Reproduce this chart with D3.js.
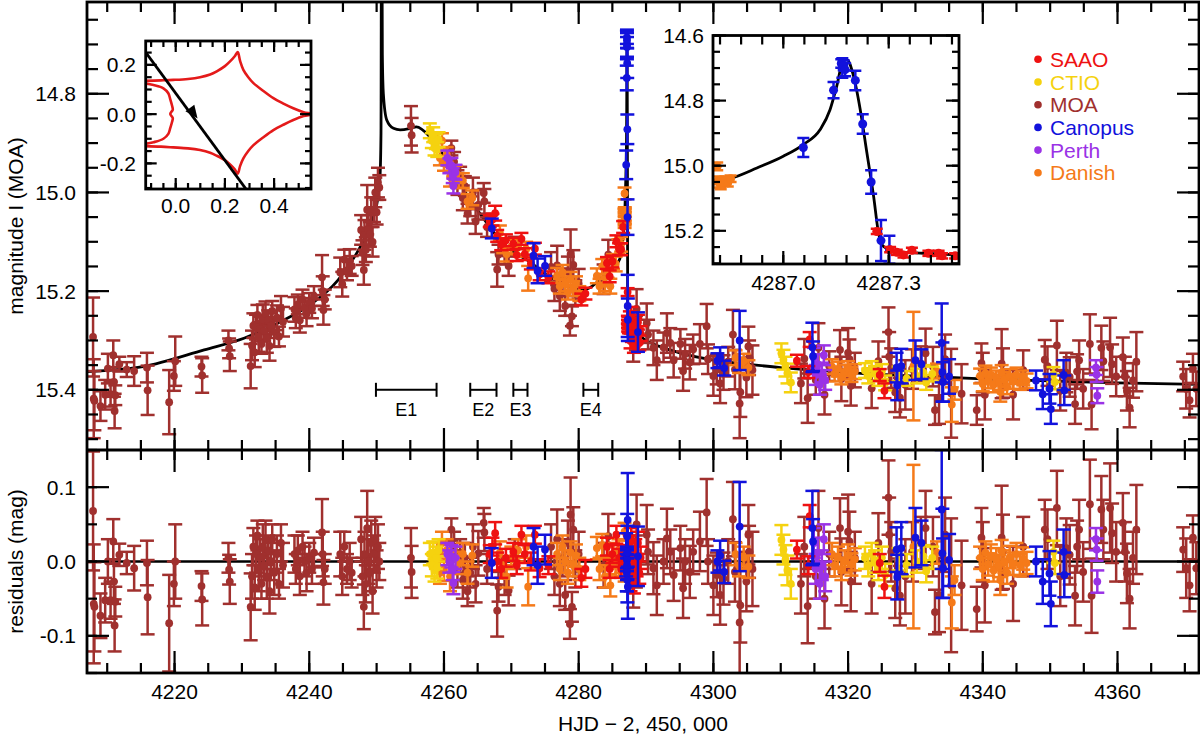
<!DOCTYPE html>
<html><head><meta charset="utf-8">
<script src="https://cdn.jsdelivr.net/npm/d3@7"></script>
<style>
body{margin:0;background:#fff}
text{font-family:"Liberation Sans",Arial,Helvetica,sans-serif}
</style>
</head><body>
<svg id="chart" width="1200" height="735"></svg>
<script>
// ---------------- axes / ticks ----------------
const hjdDomain=[4207,4372.1];
const magDomain=[14.614,15.522];
const resDomain=[-0.15,0.15];
const xMajor=[4220,4240,4260,4280,4300,4320,4340,4360];
const xMinor=d3.range(4210,4372,5);
const magMajor=[14.8,15.0,15.2,15.4];
const magLabels=["14.8","15.0","15.2","15.4"];
const magMinor=d3.range(14.65,15.52,0.05);
const resMajor=[0.1,0,-0.1];
const resLabels=["0.1","0.0","-0.1"];
const resMinor=[-0.15,-0.1,-0.05,0,0.05,0.1,0.15];

const insetTDomain=[4286.8,4287.5];
const insetMagDomain=[14.6,15.302];
const insetTMajor=[4287.0,4287.3];
const insetTLabels=["4287.0","4287.3"];
const insetTMinor=[4286.82,4286.88,4286.94,4287.00,4287.06,4287.12,4287.18,4287.24,4287.30,4287.36,4287.42,4287.48];
const insetMagMajor=[14.6,14.8,15.0,15.2];
const insetMagLabels=["14.6","14.8","15.0","15.2"];
const insetMagMinor=d3.range(14.6,15.31,0.05);

const causXDomain=[-0.122,0.55];
const causYDomain=[-0.304,0.297];
const causXMajor=[0,0.2,0.4]; const causXLabels=["0.0","0.2","0.4"];
const causYMajor=[0.2,0,-0.2]; const causYLabels=["0.2","0.0","-0.2"];
const causXMinor=[-0.1,-0.05,0,0.05,0.1,0.15,0.2,0.25,0.3,0.35,0.4,0.45,0.5];
const causYMinor=[-0.3,-0.25,-0.2,-0.15,-0.1,-0.05,0,0.05,0.1,0.15,0.2,0.25];

// ---------------- model light curve [HJD, mag] ----------------
const model=[
[4207.0,15.363],[4215.3,15.353],[4224.4,15.319],[4230.4,15.295],[4235.3,15.265],[4240.1,15.228],
[4244.3,15.177],[4247.3,15.117],[4248.5,15.085],[4249.5,15.05],[4250.2,15.01],[4250.5,14.97],
[4250.65,14.88],[4250.72,14.45],[4250.78,14.45],[4250.85,14.72],[4251.0,14.80],[4251.5,14.853],
[4252.5,14.870],[4253.5,14.873],[4255.0,14.870],[4255.9,14.867],[4257.9,14.887],[4259.4,14.914],
[4261.0,14.950],[4263.9,15.015],[4266.0,15.055],[4268.3,15.096],[4270.0,15.117],[4272.8,15.141],
[4275.0,15.165],[4277.2,15.183],[4280.6,15.198],[4282.0,15.190],[4283.6,15.171],[4285.0,15.155],
[4286.1,15.135],[4286.5,15.100],[4286.7,15.070],[4286.80,15.050],[4286.853,15.038],[4286.925,15.007],
[4287.0,14.971],[4287.057,14.935],[4287.105,14.889],[4287.133,14.828],[4287.152,14.756],[4287.170,14.679],
[4287.181,14.674],[4287.200,14.725],[4287.219,14.828],[4287.238,14.961],[4287.257,15.094],[4287.271,15.207],
[4287.285,15.248],[4287.323,15.264],[4287.399,15.269],[4287.494,15.274],[4288.0,15.280],[4289.0,15.290],
[4290.0,15.300],[4292.0,15.312],[4295.0,15.325],[4300.0,15.340],[4305.0,15.348],[4310.0,15.355],
[4315.0,15.360],[4320.0,15.365],[4330.0,15.372],[4340.0,15.378],[4350.0,15.382],[4360.0,15.386],[4372.0,15.389]
];

// ---------------- observations [HJD, mag, err, residual] ----------------
const saao=[
[4266.8,15.058,0.012,0.010],[4267.2,15.055,0.012,0.020],[4267.6,15.042,0.015,0.038],[4267.9,15.088,0.012,0.000],
[4268.5,15.105,0.012,-0.010],[4269.2,15.097,0.012,0.005],[4270.3,15.104,0.012,0.013],[4270.8,15.127,0.012,-0.005],
[4271.5,15.094,0.012,0.036],[4272.0,15.125,0.012,0.010],[4272.9,15.144,0.012,0.000],[4273.5,15.114,0.012,0.036],
[4274.2,15.166,0.012,-0.009],[4275.5,15.172,0.012,-0.005],[4280.4,15.217,0.012,-0.022],[4281.0,15.205,0.012,-0.010],
[4284.2,15.143,0.012,0.020],[4284.6,15.170,0.012,-0.010],[4285.0,15.140,0.012,0.010],[4285.6,15.099,0.012,0.036],
[4286.0,15.115,0.012,0.005],[4286.3,15.115,0.012,-0.010],[4286.6,15.070,0.012,0.010],
[4287.266,15.202,0.008,0.008],[4287.304,15.258,0.008,0.002],[4287.323,15.266,0.008,-0.002],[4287.342,15.274,0.008,-0.006],
[4287.366,15.260,0.008,0.010],[4287.413,15.269,0.008,0.000],[4287.442,15.269,0.008,0.003],[4287.452,15.277,0.008,-0.004],
[4287.489,15.277,0.008,-0.003],
[4287.6,15.256,0.015,0.020],[4287.7,15.301,0.015,-0.025],[4287.8,15.247,0.015,0.030],[4287.9,15.288,0.015,-0.010],
[4288.0,15.270,0.015,0.010],[4288.2,15.310,0.015,-0.028],[4288.4,15.270,0.015,0.015],[4288.6,15.291,0.015,-0.005],
[4288.8,15.263,0.015,0.025],[4289.0,15.305,0.015,-0.015],[4289.2,15.286,0.015,0.005],
[4312.4,15.341,0.012,0.016],[4314.1,15.364,0.012,-0.005],[4314.3,15.298,0.015,0.061],
[4324.7,15.370,0.012,-0.002],[4325.4,15.402,0.015,-0.034]
];
const ctio=[
[4257.9,14.875,0.015,0.010],[4258.2,14.895,0.015,-0.005],[4258.4,14.883,0.015,0.012],[4258.6,14.910,0.015,-0.012],
[4258.8,14.897,0.015,0.005],[4259.0,14.913,0.015,-0.008],[4259.2,14.893,0.015,0.015],
[4310.1,15.326,0.020,0.029],[4310.4,15.339,0.020,0.016],[4310.7,15.353,0.020,0.002],[4311.0,15.367,0.020,-0.012],
[4311.5,15.385,0.020,-0.030],
[4322.5,15.361,0.015,0.005],[4323.0,15.372,0.015,-0.005],[4323.5,15.357,0.015,0.010],[4324.0,15.367,0.015,0.000],
[4324.5,15.377,0.015,-0.010],[4325.0,15.363,0.015,0.005],[4325.5,15.386,0.015,-0.018],[4327.5,15.368,0.015,0.003],
[4328.7,15.377,0.015,-0.005],[4330.2,15.372,0.015,0.000],[4331.2,15.365,0.015,0.007],[4331.6,15.385,0.015,-0.013],
[4332.5,15.368,0.015,0.005],[4350.5,15.369,0.015,0.013],[4350.7,15.384,0.015,-0.002]
];
const moa=[
[4207.9,15.293,0.080,0.068],[4208.0,15.418,0.080,-0.057],[4208.1,15.422,0.060,-0.061],[4209.0,15.433,0.030,-0.073],
[4209.7,15.410,0.030,-0.052],[4210.1,15.357,0.030,0.000],[4210.5,15.409,0.025,-0.052],[4210.9,15.330,0.030,0.027],
[4211.0,15.384,0.030,-0.027],[4211.1,15.443,0.035,-0.086],[4211.2,15.411,0.020,-0.054],[4211.8,15.348,0.015,0.009],
[4212.9,15.359,0.015,-0.002],[4214.0,15.362,0.030,-0.009],[4215.9,15.355,0.030,-0.002],[4216.0,15.401,0.050,-0.048],
[4219.2,15.425,0.065,-0.083],[4219.9,15.372,0.030,-0.030],[4220.1,15.342,0.050,0.000],[4224.0,15.353,0.020,-0.033],
[4224.1,15.371,0.035,-0.051],[4228.0,15.300,0.020,0.005],[4228.1,15.316,0.020,-0.011],[4228.2,15.332,0.030,-0.027],
[4231.3,15.352,0.045,-0.061],[4231.5,15.310,0.030,-0.020],[4231.7,15.270,0.025,0.020],[4231.9,15.324,0.030,-0.035],
[4232.1,15.273,0.025,0.010],[4232.3,15.248,0.020,0.035],[4232.5,15.293,0.030,-0.010],[4232.7,15.277,0.025,0.005],
[4232.9,15.307,0.020,-0.030],[4233.1,15.257,0.030,0.020],[4233.3,15.281,0.020,-0.005],[4233.5,15.246,0.025,0.030],
[4233.7,15.295,0.030,-0.020],[4233.9,15.259,0.020,0.015],[4234.1,15.311,0.030,-0.040],[4234.3,15.270,0.025,0.000],
[4234.5,15.240,0.020,0.030],[4234.8,15.283,0.030,-0.015],[4235.2,15.254,0.025,0.010],[4235.5,15.292,0.020,-0.030],
[4235.8,15.235,0.025,0.025],[4236.1,15.262,0.030,-0.005],[4237.8,15.237,0.025,0.010],[4238.0,15.255,0.020,-0.010],
[4238.3,15.227,0.020,0.015],[4238.6,15.259,0.025,-0.020],[4239.0,15.217,0.020,0.020],[4239.3,15.234,0.020,0.000],
[4239.6,15.246,0.025,-0.015],[4240.0,15.224,0.020,0.005],[4240.4,15.235,0.020,-0.010],[4240.7,15.210,0.020,0.012],
[4241.9,15.172,0.045,0.039],[4242.0,15.200,0.030,0.010],[4242.1,15.238,0.030,-0.028],[4242.3,15.217,0.020,-0.010],
[4244.6,15.162,0.030,0.010],[4244.9,15.186,0.025,-0.020],[4245.2,15.136,0.020,0.020],[4245.6,15.158,0.020,-0.010],
[4246.0,15.140,0.025,0.000],[4246.3,15.149,0.020,-0.015],[4247.7,15.076,0.030,0.030],[4247.9,15.122,0.025,-0.020],
[4248.1,15.157,0.030,-0.061],[4248.2,15.086,0.030,0.010],[4248.4,15.116,0.025,-0.030],[4248.6,15.035,0.050,0.045],
[4248.8,15.076,0.030,0.000],[4249.0,15.085,0.025,-0.015],[4249.2,15.040,0.030,0.025],[4249.4,15.100,0.030,-0.040],
[4249.6,15.035,0.025,0.010],[4249.8,15.000,0.030,0.030],[4250.0,15.040,0.025,-0.010],[4250.2,14.980,0.030,0.020],
[4250.4,14.990,0.025,0.000],[4255.1,14.865,0.040,0.005],[4255.2,14.884,0.035,-0.014],
[4261.1,14.910,0.015,0.043],[4261.5,14.938,0.020,0.020],[4262.0,14.980,0.025,-0.010],[4262.4,14.968,0.020,0.010],
[4262.8,15.011,0.025,-0.025],[4263.1,14.987,0.020,0.005],[4263.5,15.043,0.020,-0.040],[4263.9,15.028,0.020,-0.015],
[4264.3,15.000,0.030,0.020],[4264.7,15.059,0.025,-0.030],[4265.1,15.025,0.030,0.011],[4265.9,15.001,0.020,0.052],
[4266.0,15.018,0.025,0.039],[4266.4,15.070,0.020,-0.010],[4267.9,15.156,0.035,-0.066],[4268.1,15.126,0.020,-0.034],
[4269.0,15.120,0.025,-0.020],[4269.6,15.149,0.020,-0.039],[4270.5,15.110,0.020,0.010],[4275.9,15.151,0.030,0.020],
[4276.4,15.195,0.025,-0.020],[4276.8,15.148,0.040,0.030],[4277.2,15.210,0.030,-0.030],[4277.6,15.179,0.025,0.005],
[4278.0,15.230,0.020,-0.045],[4278.4,15.160,0.030,0.025],[4278.7,15.270,0.020,-0.084],[4278.8,15.125,0.050,0.063],
[4279.0,15.251,0.020,-0.061],[4279.2,15.147,0.030,0.043],[4279.5,15.203,0.025,-0.010],[4280.0,15.185,0.030,0.010],
[4283.7,15.176,0.030,-0.005],[4284.4,15.126,0.030,0.034],[4288.1,15.308,0.035,-0.027],[4288.5,15.285,0.035,0.000],
[4288.6,15.236,0.040,0.050],[4290.1,15.265,0.040,0.036],[4290.3,15.288,0.030,0.013],[4291.1,15.315,0.035,-0.009],
[4291.6,15.340,0.040,-0.032],[4292.6,15.314,0.030,0.000],[4293.1,15.285,0.040,0.031],[4293.6,15.305,0.030,0.013],
[4294.1,15.340,0.035,-0.018],[4295.1,15.307,0.030,0.018],[4295.5,15.362,0.040,-0.036],[4295.8,15.327,0.030,0.000],
[4296.5,15.344,0.035,-0.014],[4297.0,15.318,0.030,0.013],[4298.0,15.307,0.040,0.027],[4299.0,15.271,0.045,0.066],
[4299.2,15.338,0.030,0.000],[4300.0,15.372,0.040,-0.032],[4300.5,15.359,0.030,-0.018],[4301.0,15.387,0.040,-0.045],
[4301.5,15.365,0.035,-0.023],[4302.2,15.343,0.030,0.000],[4302.9,15.288,0.050,0.057],[4303.2,15.359,0.040,-0.014],
[4303.9,15.428,0.070,-0.082],[4304.0,15.405,0.050,-0.059],[4304.9,15.375,0.040,-0.027],[4305.2,15.312,0.040,0.036],
[4305.3,15.335,0.035,0.013],[4305.8,15.360,0.050,-0.010],[4313.0,15.387,0.040,-0.030],[4313.5,15.337,0.040,0.020],
[4314.0,15.417,0.050,-0.060],[4315.2,15.380,0.030,-0.020],[4315.6,15.315,0.050,0.045],[4316.5,15.410,0.040,-0.050],
[4317.2,15.352,0.030,0.010],[4318.8,15.319,0.040,0.045],[4319.0,15.378,0.045,-0.014],[4320.0,15.325,0.050,0.040],
[4320.2,15.338,0.040,0.027],[4320.4,15.392,0.040,-0.027],[4321.0,15.360,0.035,0.005],[4323.5,15.397,0.040,-0.030],
[4324.5,15.342,0.040,0.025],[4326.0,15.283,0.050,0.086],[4326.1,15.333,0.050,0.036],[4326.4,15.356,0.040,0.013],
[4327.0,15.405,0.040,-0.036],[4327.7,15.416,0.040,-0.046],[4328.5,15.390,0.050,-0.020],[4329.5,15.358,0.040,0.013],
[4330.8,15.347,0.035,0.025],[4331.5,15.326,0.050,0.045],[4332.6,15.353,0.040,0.020],[4332.9,15.441,0.030,-0.068],
[4333.5,15.419,0.050,-0.045],[4334.4,15.338,0.050,0.036],[4335.3,15.407,0.090,-0.032],[4336.85,15.408,0.060,-0.032],
[4339.1,15.441,0.030,-0.064],[4339.8,15.346,0.040,0.032],[4340.0,15.365,0.040,0.013],[4340.3,15.410,0.050,-0.032],
[4342.8,15.347,0.070,0.032],[4343.0,15.366,0.050,0.013],[4344.5,15.410,0.050,-0.030],[4346.0,15.360,0.040,0.020],
[4349.2,15.339,0.040,0.043],[4349.6,15.352,0.040,0.030],[4351.0,15.310,0.050,0.072],[4351.5,15.402,0.040,-0.020],
[4352.4,15.365,0.040,0.018],[4352.9,15.374,0.040,0.009],[4353.7,15.429,0.040,-0.046],[4354.0,15.363,0.035,0.020],
[4354.3,15.340,0.040,0.043],[4354.9,15.398,0.040,-0.014],[4355.9,15.307,0.060,0.077],[4356.15,15.430,0.050,-0.046],
[4357.6,15.315,0.045,0.070],[4357.9,15.342,0.040,0.043],[4358.9,15.314,0.060,0.072],[4359.2,15.348,0.040,0.038],
[4359.8,15.373,0.040,0.013],[4360.8,15.334,0.040,0.052],[4361.1,15.373,0.040,0.013],[4361.4,15.402,0.040,-0.016],
[4361.8,15.436,0.040,-0.050],[4362.3,15.381,0.035,0.005],[4362.8,15.343,0.060,0.043],[4369.75,15.373,0.030,0.016],
[4370.2,15.398,0.040,-0.009],[4370.7,15.421,0.035,-0.032],[4371.2,15.357,0.030,0.032],[4371.7,15.398,0.035,-0.009]
];
const canopus=[
[4267.1,15.073,0.020,-0.002],[4273.3,15.128,0.025,0.020],[4273.9,15.159,0.025,-0.005],[4275.0,15.149,0.020,0.016],
[4287.057,14.944,0.029,0.009],[4287.143,14.768,0.025,-0.015],[4287.165,14.686,0.013,0.004],[4287.168,14.700,0.030,-0.010],
[4287.172,14.692,0.015,0.002],[4287.176,14.705,0.020,-0.005],[4287.205,14.738,0.030,0.034],[4287.226,14.872,0.030,-0.025],
[4287.250,15.050,0.036,0.012],[4287.278,15.230,0.063,0.056],[4287.302,15.258,0.043,-0.034],[4288.8,15.283,0.040,0.007],
[4300.6,15.341,0.015,0.000],[4301.0,15.334,0.020,0.008],[4301.6,15.356,0.015,-0.014],[4303.9,15.300,0.060,0.047],
[4314.7,15.314,0.050,0.045],[4314.8,15.332,0.030,0.027],[4327.2,15.355,0.030,0.016],[4327.3,15.391,0.030,-0.021],
[4327.9,15.352,0.035,0.018],[4330.0,15.340,0.040,0.032],[4330.9,15.348,0.030,0.025],[4333.9,15.305,0.080,0.070],
[4334.0,15.364,0.060,0.011],[4334.1,15.384,0.040,-0.009],[4335.0,15.373,0.035,0.002],[4347.9,15.381,0.020,0.000],
[4348.9,15.409,0.030,-0.027],[4349.9,15.398,0.030,-0.016],[4350.1,15.439,0.030,-0.057],[4352.0,15.370,0.030,0.013],
[4352.1,15.401,0.030,-0.018]
];
const perth=[
[4260.5,14.930,0.015,0.010],[4260.8,14.946,0.015,0.000],[4261.1,14.945,0.015,0.007],[4261.3,14.966,0.015,-0.010],
[4261.4,14.987,0.015,-0.029],[4261.7,14.959,0.015,0.005],[4314.9,15.335,0.020,0.025],[4315.2,15.370,0.020,-0.010],
[4315.5,15.348,0.020,0.012],[4315.8,15.390,0.020,-0.030],[4316.1,15.365,0.020,-0.005],[4316.4,15.330,0.020,0.030],
[4316.6,15.380,0.020,-0.020],[4356.8,15.355,0.015,0.030],[4356.9,15.369,0.015,0.016],[4357.0,15.412,0.015,-0.027]
];
const danish=[
[4259.0,14.895,0.015,0.010],[4259.4,14.930,0.015,-0.015],[4259.7,14.895,0.015,0.025],[4260.0,14.941,0.015,-0.011],
[4260.4,14.923,0.015,0.015],[4260.9,14.968,0.020,-0.020],[4261.8,14.961,0.015,0.005],[4262.2,14.976,0.015,-0.002],
[4262.8,14.976,0.015,0.010],[4263.5,15.018,0.015,-0.015],[4264.2,15.011,0.015,0.008],[4268.3,15.082,0.015,0.012],
[4268.8,15.108,0.015,-0.008],[4269.3,15.125,0.015,-0.020],[4270.0,15.110,0.015,0.005],[4271.0,15.110,0.015,0.015],
[4272.2,15.115,0.015,0.020],[4272.5,15.174,0.025,-0.034],[4276.8,15.168,0.015,0.010],[4277.2,15.190,0.015,-0.010],
[4277.6,15.162,0.015,0.020],[4278.0,15.185,0.015,0.000],[4278.4,15.202,0.015,-0.015],[4278.8,15.176,0.015,0.012],
[4279.2,15.195,0.015,-0.005],[4279.6,15.185,0.015,0.008],[4280.1,15.205,0.015,-0.010],[4282.7,15.169,0.015,0.018],
[4283.1,15.190,0.015,-0.010],[4283.5,15.150,0.015,0.022],[4283.9,15.185,0.015,-0.020],[4284.3,15.158,0.015,0.005],
[4284.7,15.190,0.015,-0.032],[4285.1,15.140,0.015,0.010],[4285.5,15.145,0.015,-0.005],[4285.9,15.110,0.015,0.015],
[4286.3,15.105,0.015,0.000],[4286.812,15.002,0.012,0.040],[4286.815,15.045,0.012,0.000],[4286.820,15.055,0.012,-0.010],
[4286.822,15.060,0.012,-0.015],[4286.828,15.050,0.012,-0.005],[4286.835,15.045,0.012,0.000],[4286.842,15.052,0.012,-0.008],
[4286.850,15.040,0.010,0.000],[4303.3,15.335,0.015,0.010],[4303.8,15.351,0.015,-0.005],[4304.5,15.342,0.015,0.005],
[4305.2,15.355,0.015,-0.007],[4317.6,15.353,0.015,0.010],[4318.0,15.368,0.015,-0.005],[4318.5,15.358,0.015,0.005],
[4319.0,15.374,0.015,-0.010],[4319.5,15.364,0.015,0.000],[4320.0,15.357,0.015,0.008],[4320.5,15.369,0.015,-0.004],
[4321.0,15.363,0.015,0.003],[4329.7,15.352,0.110,0.020],[4333.2,15.362,0.015,0.012],[4335.4,15.430,0.035,-0.055],
[4335.8,15.400,0.020,-0.025],[4339.6,15.372,0.015,0.005],[4340.0,15.388,0.015,-0.010],[4340.4,15.366,0.015,0.012],
[4340.8,15.382,0.015,-0.004],[4341.2,15.370,0.015,0.008],[4341.6,15.390,0.015,-0.012],[4342.0,15.376,0.015,0.003],
[4342.4,15.385,0.015,-0.006],[4342.6,15.404,0.020,-0.025],[4342.8,15.365,0.015,0.014],[4343.2,15.379,0.015,0.000],
[4343.6,15.394,0.015,-0.015],[4344.0,15.373,0.015,0.006],[4344.5,15.383,0.015,-0.003],[4345.0,15.370,0.015,0.010],
[4345.5,15.385,0.015,-0.005],[4346.0,15.376,0.015,0.004],[4346.5,15.382,0.015,-0.002]
];

// ---------------- caustic inset [x, y] ----------------
const causticOuter=[
[-0.125,0.135],[-0.06,0.137],[-0.01,0.139],[0.05,0.143],[0.099,0.150],[0.14,0.161],[0.167,0.174],[0.2,0.195],
[0.221,0.214],[0.24,0.235],[0.252,0.252],[0.262,0.215],[0.275,0.18],[0.295,0.15],[0.316,0.126],[0.355,0.095],
[0.397,0.065],[0.44,0.042],[0.478,0.024],[0.52,0.008],[0.556,0.0],[0.52,-0.008],[0.478,-0.024],[0.44,-0.042],
[0.397,-0.065],[0.355,-0.095],[0.316,-0.126],[0.295,-0.15],[0.275,-0.18],[0.262,-0.21],[0.252,-0.242],
[0.24,-0.224],[0.221,-0.204],[0.2,-0.187],[0.167,-0.169],[0.14,-0.157],[0.099,-0.146],[0.05,-0.139],
[-0.01,-0.135],[-0.06,-0.132],[-0.125,-0.13]
];
const causticLobe=[
[-0.125,0.125],[-0.09,0.118],[-0.05,0.105],[-0.03,0.085],[-0.022,0.06],[-0.015,0.035],[-0.012,0.018],
[-0.022,0.001],[-0.012,-0.016],[-0.015,-0.032],[-0.022,-0.056],[-0.03,-0.08],[-0.05,-0.1],[-0.09,-0.114],[-0.125,-0.121]
];
const trajectory=[[-0.125,0.255],[0.29,-0.31]];
const arrowAt=[0.072,0.005];

// ---------------- events & legend ----------------
const events=[
{name:"E1",t0:4249.9,t1:4258.9,mag:15.4},
{name:"E2",t0:4263.9,t1:4267.8,mag:15.4},
{name:"E3",t0:4270.3,t1:4272.4,mag:15.4},
{name:"E4",t0:4280.7,t1:4282.9,mag:15.4}
];
const seriesNames=["SAAO","CTIO","MOA","Canopus","Perth","Danish"];
const seriesColors=["#ee1111","#f5d20f","#a0302e","#1212dc","#9a32e6","#f57a19"];
const seriesData=[saao,ctio,moa,canopus,perth,danish];
const drawOrder=["MOA","Danish","CTIO","Perth","SAAO","Canopus"];
const insetOrder=["Danish","Canopus","SAAO"];

// ================= drawing =================
const svg=d3.select("#chart");
const FONT=21;
const L=87,R=1199,T=2,MID=450,B=673;
const xMain=d3.scaleLinear().domain(hjdDomain).range([L,R]);
const yMain=d3.scaleLinear().domain(magDomain).range([T,MID]);
const yRes=d3.scaleLinear().domain(resDomain).range([B,MID]);

const defs=svg.append("defs");
function clip(id,x,y,w,h){defs.append("clipPath").attr("id",id).append("rect").attr("x",x).attr("y",y).attr("width",w).attr("height",h);}
clip("cMain",L,T,R-L,MID-T);
clip("cRes",L,MID,R-L,B-MID);

function drawPoints(parent,rows,xs,ys,vi,color,capW,r,sw){
  const g=parent.append("g");
  g.selectAll("line.bar").data(rows).join("line").attr("class","bar")
    .attr("x1",d=>xs(d[0])).attr("x2",d=>xs(d[0]))
    .attr("y1",d=>ys(d[vi]-d[2])).attr("y2",d=>ys(d[vi]+d[2]))
    .attr("stroke",color).attr("stroke-width",sw);
  g.selectAll("line.capa").data(rows).join("line").attr("class","capa")
    .attr("x1",d=>xs(d[0])-capW).attr("x2",d=>xs(d[0])+capW)
    .attr("y1",d=>ys(d[vi]-d[2])).attr("y2",d=>ys(d[vi]-d[2]))
    .attr("stroke",color).attr("stroke-width",sw);
  g.selectAll("line.capb").data(rows).join("line").attr("class","capb")
    .attr("x1",d=>xs(d[0])-capW).attr("x2",d=>xs(d[0])+capW)
    .attr("y1",d=>ys(d[vi]+d[2])).attr("y2",d=>ys(d[vi]+d[2]))
    .attr("stroke",color).attr("stroke-width",sw);
  g.selectAll("circle").data(rows).join("circle")
    .attr("cx",d=>xs(d[0])).attr("cy",d=>ys(d[vi])).attr("r",r).attr("fill",color);
}
function hTicks(g,xs,vals,y,dir,len,sw){
  g.append("g").selectAll("line").data(vals).join("line")
    .attr("x1",d=>xs(d)).attr("x2",d=>xs(d)).attr("y1",y).attr("y2",y+dir*len)
    .attr("stroke","#000").attr("stroke-width",sw||2.2);
}
function vTicks(g,ys,vals,x,dir,len,sw){
  g.append("g").selectAll("line").data(vals).join("line")
    .attr("y1",d=>ys(d)).attr("y2",d=>ys(d)).attr("x1",x).attr("x2",x+dir*len)
    .attr("stroke","#000").attr("stroke-width",sw||2.2);
}
const idx=n=>seriesNames.indexOf(n);

// ---- main panel ----
const gMain=svg.append("g").attr("clip-path","url(#cMain)");
gMain.append("path").datum(model)
  .attr("d",d3.line().x(d=>xMain(d[0])).y(d=>yMain(d[1])).curve(d3.curveMonotoneX))
  .attr("fill","none").attr("stroke","#000").attr("stroke-width",2.8);
drawOrder.forEach(n=>{const i=idx(n);drawPoints(gMain,seriesData[i],xMain,yMain,1,seriesColors[i],7,3.9,2.5);});

// ---- residual panel ----
const gRes=svg.append("g").attr("clip-path","url(#cRes)");
gRes.append("line").attr("x1",L).attr("x2",R).attr("y1",yRes(0)).attr("y2",yRes(0))
  .attr("stroke","#000").attr("stroke-width",2.6);
drawOrder.forEach(n=>{const i=idx(n);drawPoints(gRes,seriesData[i],xMain,yRes,3,seriesColors[i],7,3.9,2.5);});

// ---- events ----
const gEv=svg.append("g");
events.forEach(e=>{
  const y=yMain(e.mag), x0=xMain(e.t0), x1=xMain(e.t1);
  gEv.append("line").attr("x1",x0).attr("x2",x1).attr("y1",y).attr("y2",y).attr("stroke","#000").attr("stroke-width",2);
  [x0,x1].forEach(xx=>gEv.append("line").attr("x1",xx).attr("x2",xx).attr("y1",y-7).attr("y2",y+7).attr("stroke","#000").attr("stroke-width",2));
  gEv.append("text").attr("x",(x0+x1)/2).attr("y",y+26).attr("text-anchor","middle").attr("font-size",18).text(e.name);
});

// ---- frames & ticks ----
const gAx=svg.append("g");
gAx.append("rect").attr("x",L).attr("y",T).attr("width",R-L).attr("height",B-T).attr("fill","none").attr("stroke","#000").attr("stroke-width",2.8);
gAx.append("line").attr("x1",L).attr("x2",R).attr("y1",MID).attr("y2",MID).attr("stroke","#000").attr("stroke-width",2.8);
[[T,1],[MID,-1],[MID,1],[B,-1]].forEach(([y,dir])=>{
  hTicks(gAx,xMain,xMinor,y,dir,10);
  hTicks(gAx,xMain,xMajor,y,dir,22);
});
vTicks(gAx,yMain,magMinor,L,1,11); vTicks(gAx,yMain,magMajor,L,1,22);
vTicks(gAx,yMain,magMinor,R,-1,11); vTicks(gAx,yMain,magMajor,R,-1,22);
vTicks(gAx,yRes,resMinor,L,1,10); vTicks(gAx,yRes,resMajor,L,1,22);
vTicks(gAx,yRes,resMinor,R,-1,10); vTicks(gAx,yRes,resMajor,R,-1,22);

gAx.append("g").selectAll("text").data(xMajor).join("text")
  .attr("x",d=>xMain(d)).attr("y",699).attr("text-anchor","middle").attr("font-size",FONT).text(d=>d);
gAx.append("g").selectAll("text").data(magMajor).join("text")
  .attr("x",76).attr("y",d=>yMain(d)+7.5).attr("text-anchor","end").attr("font-size",FONT).text((d,i)=>magLabels[i]);
gAx.append("g").selectAll("text").data(resMajor).join("text")
  .attr("x",76).attr("y",d=>yRes(d)+7.5).attr("text-anchor","end").attr("font-size",FONT).text((d,i)=>resLabels[i]);

gAx.append("text").attr("transform",`translate(23,${(T+MID)/2}) rotate(-90)`).attr("text-anchor","middle").attr("font-size",FONT).text("magnitude I (MOA)");
gAx.append("text").attr("transform",`translate(23,${(MID+B)/2}) rotate(-90)`).attr("text-anchor","middle").attr("font-size",FONT).text("residuals (mag)");
gAx.append("text").attr("x",(L+R)/2).attr("y",731).attr("text-anchor","middle").attr("font-size",FONT).text("HJD \u2212 2, 450, 000");

// ---- legend ----
const gLeg=svg.append("g");
seriesNames.forEach((n,i)=>{
  const cy=59.3+i*22.7;
  gLeg.append("circle").attr("cx",1038).attr("cy",cy).attr("r",3.8).attr("fill",seriesColors[i]);
  gLeg.append("text").attr("x",1050).attr("y",cy+7.5).attr("font-size",FONT).attr("fill",seriesColors[i]).text(n);
});

// ---- right inset (zoom on caustic exit) ----
const IR={x0:713,x1:959,y0:35.5,y1:264};
clip("cInR",IR.x0,IR.y0,IR.x1-IR.x0,IR.y1-IR.y0);
const xIn=d3.scaleLinear().domain(insetTDomain).range([IR.x0,IR.x1]);
const yIn=d3.scaleLinear().domain(insetMagDomain).range([IR.y0,IR.y1]);
const gIR=svg.append("g");
gIR.append("rect").attr("x",IR.x0).attr("y",IR.y0).attr("width",IR.x1-IR.x0).attr("height",IR.y1-IR.y0).attr("fill","#fff");
const gIRc=gIR.append("g").attr("clip-path","url(#cInR)");
gIRc.append("path").datum(model.filter(d=>d[0]>=4286.8&&d[0]<=4287.6))
  .attr("d",d3.line().x(d=>xIn(d[0])).y(d=>yIn(d[1])).curve(d3.curveMonotoneX))
  .attr("fill","none").attr("stroke","#000").attr("stroke-width",2.8);
insetOrder.forEach(n=>{const i=idx(n);
  const rows=seriesData[i].filter(d=>d[0]>=insetTDomain[0]-0.01&&d[0]<=insetTDomain[1]+0.01);
  drawPoints(gIRc,rows,xIn,yIn,1,seriesColors[i],6,4.5,2.5);});
gIR.append("rect").attr("x",IR.x0).attr("y",IR.y0).attr("width",IR.x1-IR.x0).attr("height",IR.y1-IR.y0).attr("fill","none").attr("stroke","#000").attr("stroke-width",2.8);
hTicks(gIR,xIn,insetTMinor,IR.y0,1,9); hTicks(gIR,xIn,insetTMinor,IR.y1,-1,9);
hTicks(gIR,xIn,insetTMajor,IR.y0,1,13); hTicks(gIR,xIn,insetTMajor,IR.y1,-1,13);
vTicks(gIR,yIn,insetMagMinor,IR.x0,1,7); vTicks(gIR,yIn,insetMagMinor,IR.x1,-1,7);
vTicks(gIR,yIn,insetMagMajor,IR.x0,1,13); vTicks(gIR,yIn,insetMagMajor,IR.x1,-1,13);
gIR.append("g").selectAll("text").data(insetMagMajor).join("text")
  .attr("x",704).attr("y",d=>yIn(d)+7.5).attr("text-anchor","end").attr("font-size",FONT).text((d,i)=>insetMagLabels[i]);
gIR.append("g").selectAll("text").data(insetTMajor).join("text")
  .attr("x",d=>xIn(d)).attr("y",290).attr("text-anchor","middle").attr("font-size",FONT).text((d,i)=>insetTLabels[i]);

// ---- left inset (caustic & trajectory) ----
const IL={x0:145.7,x1:311,y0:41,y1:189};
clip("cInL",IL.x0,IL.y0,IL.x1-IL.x0,IL.y1-IL.y0);
const xC=d3.scaleLinear().domain(causXDomain).range([IL.x0,IL.x1]);
const yC=d3.scaleLinear().domain(causYDomain).range([IL.y1,IL.y0]);
const gIL=svg.append("g");
gIL.append("rect").attr("x",IL.x0).attr("y",IL.y0).attr("width",IL.x1-IL.x0).attr("height",IL.y1-IL.y0).attr("fill","#fff");
const gILc=gIL.append("g").attr("clip-path","url(#cInL)");
const cLine=d3.line().x(d=>xC(d[0])).y(d=>yC(d[1])).curve(d3.curveCatmullRom.alpha(0.5));
[causticOuter,causticLobe].forEach(c=>gILc.append("path").datum(c).attr("d",cLine).attr("fill","none").attr("stroke","#e41a1a").attr("stroke-width",2.6));
gILc.append("path").datum(trajectory).attr("d",d3.line().x(d=>xC(d[0])).y(d=>yC(d[1])))
  .attr("fill","none").attr("stroke","#000").attr("stroke-width",2.8);
const ang=Math.atan2(yC(trajectory[1][1])-yC(trajectory[0][1]),xC(trajectory[1][0])-xC(trajectory[0][0]))*180/Math.PI;
gILc.append("path").attr("d","M7,0 L-6,-5.5 L-6,5.5 Z").attr("fill","#000")
  .attr("transform",`translate(${xC(arrowAt[0])},${yC(arrowAt[1])}) rotate(${ang})`);
gIL.append("rect").attr("x",IL.x0).attr("y",IL.y0).attr("width",IL.x1-IL.x0).attr("height",IL.y1-IL.y0).attr("fill","none").attr("stroke","#000").attr("stroke-width",2.8);
hTicks(gIL,xC,causXMinor,IL.y0,1,6); hTicks(gIL,xC,causXMinor,IL.y1,-1,6);
hTicks(gIL,xC,causXMajor,IL.y0,1,11); hTicks(gIL,xC,causXMajor,IL.y1,-1,11);
vTicks(gIL,yC,causYMinor,IL.x0,1,6); vTicks(gIL,yC,causYMinor,IL.x1,-1,6);
vTicks(gIL,yC,causYMajor,IL.x0,1,11); vTicks(gIL,yC,causYMajor,IL.x1,-1,11);
gIL.append("g").selectAll("text").data(causYMajor).join("text")
  .attr("x",136).attr("y",d=>yC(d)+7.5).attr("text-anchor","end").attr("font-size",FONT).text((d,i)=>causYLabels[i]);
gIL.append("g").selectAll("text").data(causXMajor).join("text")
  .attr("x",d=>xC(d)).attr("y",213).attr("text-anchor","middle").attr("font-size",FONT).text((d,i)=>causXLabels[i]);
</script>
</body></html>
